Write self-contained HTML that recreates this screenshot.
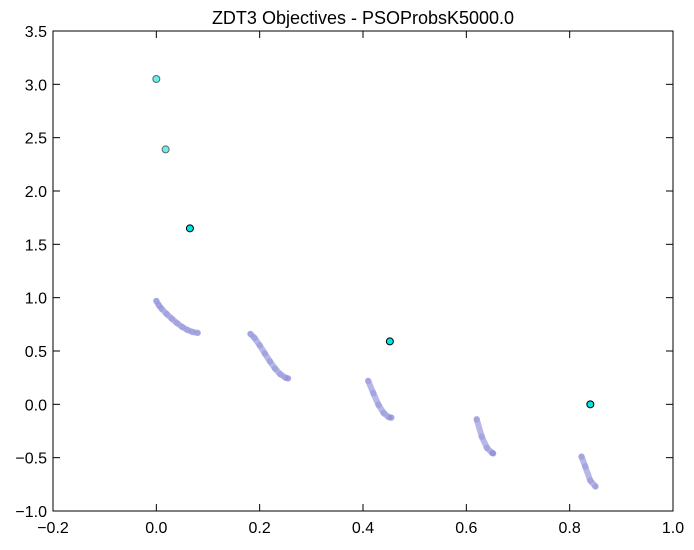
<!DOCTYPE html>
<html><head><meta charset="utf-8"><style>
body{margin:0;background:#fff;}
svg text{font-family:"Liberation Sans","DejaVu Sans",sans-serif;}
</style></head><body>
<svg id="chart" width="694" height="545" xmlns="http://www.w3.org/2000/svg">
<rect width="694" height="545" fill="#fff"/>
<text x="363" y="24" font-size="18" text-anchor="middle">ZDT3 Objectives - PSOProbsK5000.0</text>
<g id="front"></g>
<g id="sel"></g>
<rect x="53" y="31" width="620" height="480" fill="none" stroke="#000" stroke-width="1"/>
<g id="axes"></g>
</svg>
<script>
const xTicks=[-0.2,0.0,0.2,0.4,0.6,0.8,1.0];
const yTicks=[-1.0,-0.5,0.0,0.5,1.0,1.5,2.0,2.5,3.0,3.5];
const seg1X=[0.0,0.005,0.01,0.02,0.03,0.04,0.05,0.06,0.07,0.08];
const seg1Y=[0.97,0.928,0.897,0.847,0.803,0.762,0.726,0.698,0.679,0.670];
const seg2X=[0.182,0.19,0.20,0.21,0.22,0.23,0.24,0.25,0.255];
const seg2Y=[0.66,0.623,0.553,0.477,0.402,0.334,0.282,0.25,0.243];
const seg3X=[0.41,0.42,0.43,0.44,0.45,0.455];
const seg3Y=[0.22,0.105,-0.004,-0.082,-0.121,-0.124];
const seg4X=[0.62,0.63,0.64,0.65,0.652];
const seg4Y=[-0.14,-0.303,-0.409,-0.456,-0.46];
const seg5X=[0.823,0.83,0.84,0.85];
const seg5Y=[-0.49,-0.582,-0.715,-0.77];
const selX=[0.0,0.018,0.065,0.452,0.84];
const selY=[3.05,2.39,1.65,0.59,0.0];
const selAlpha=[0.6,0.6,1,1,1];
const NS="http://www.w3.org/2000/svg";
const x0=53,x1=673,y0=511,y1=31;
function sx(v){return x0+(v+0.2)/1.2*(x1-x0);}
function sy(v){return y0-(v+1.0)/4.5*(y0-y1);}
function mk(t,a,p){const e=document.createElementNS(NS,t);for(const k in a)e.setAttribute(k,a[k]);p.appendChild(e);return e;}
const axes=document.getElementById('axes');
xTicks.forEach(v=>{const X=sx(v);
 const t1=mk('line',{x1:X,x2:X,y1:y0,y2:y0-7,stroke:'#000'},axes);
 
 const t2=mk('line',{x1:X,x2:X,y1:y1,y2:y1+7,stroke:'#000'},axes);
 
 const l=mk('text',{x:X,y:y0+22,'font-size':16,'text-anchor':'middle'},axes);l.textContent=v.toFixed(1).replace('-','\u2212');
 
});
yTicks.forEach(v=>{const Y=sy(v);
 const t1=mk('line',{x1:x0,x2:x0+7,y1:Y,y2:Y,stroke:'#000'},axes);
 
 const t2=mk('line',{x1:x1,x2:x1-7,y1:Y,y2:Y,stroke:'#000'},axes);
 
 const l=mk('text',{x:x0-6,y:Y+6,'font-size':16,'text-anchor':'end'},axes);l.textContent=v.toFixed(1).replace('-','\u2212');
 
});
const front=document.getElementById('front');
[[seg1X,seg1Y],[seg2X,seg2Y],[seg3X,seg3Y],[seg4X,seg4Y],[seg5X,seg5Y]].forEach(([xs,ys])=>{
 const d=xs.map((v,i)=>(i?'L':'M')+sx(v).toFixed(1)+','+sy(ys[i]).toFixed(1)).join('');
 const p=mk('path',{d:d,fill:'none',stroke:'rgba(95,95,205,0.45)','stroke-width':6,'stroke-linecap':'round','stroke-linejoin':'round'},front);
 
 xs.forEach((v,i)=>{const c=mk('circle',{cx:sx(v),cy:sy(ys[i]),r:3.3,fill:'rgba(90,90,200,0.2)'},front);
  });
});
const sel=document.getElementById('sel');
selX.forEach((v,i)=>{const c=mk('circle',{cx:sx(v),cy:sy(selY[i]),r:3.5,fill:'#00e5e5',stroke:'#000','stroke-width':1,opacity:selAlpha[i]},sel);
 });
</script>
</body></html>
